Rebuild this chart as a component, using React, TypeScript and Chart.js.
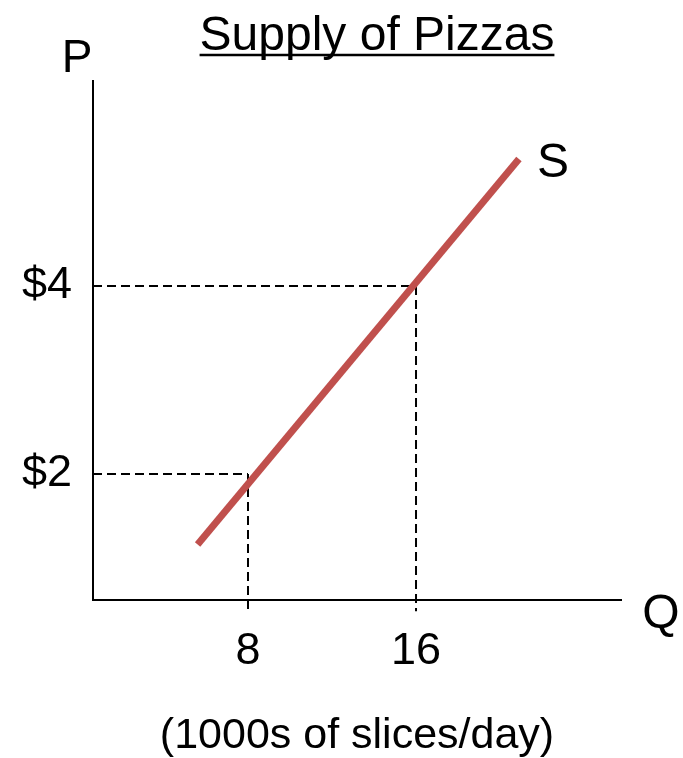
import React, { useEffect, useRef } from "react";
import { Chart, registerables } from "chart.js";

Chart.register(...registerables);

// ---- data ----
const supplyQuantity = [5.6, 20.9];
const supplyPrice = [1.25, 5.35];
const markedQuantities = [8, 16];
const markedPrices = [2, 4];
const quantityTickLabels = ["8", "16"];
const priceTickLabels = ["$2", "$4"];
const guideFloor = 0.54;

const titleText = "Supply of Pizzas";
const xAxisTitle = "(1000s of slices/day)";
const priceLabel = "P";
const quantityLabel = "Q";
const curveLabel = "S";

const X_MIN = 0.62;
const X_MAX = 25.76;
const Y_MIN = 0.66;
const Y_MAX = 6.18;

const FONT = '"Liberation Sans", Arial, sans-serif';

const textPlugin = {
  id: "econText",
  afterDraw(chart: any) {
    const { ctx, chartArea } = chart;
    const xs = chart.scales.x;
    const ys = chart.scales.y;
    ctx.save();
    ctx.fillStyle = "#000";
    ctx.strokeStyle = "#000";
    // title with underline
    ctx.font = `48px ${FONT}`;
    ctx.textAlign = "center";
    ctx.textBaseline = "alphabetic";
    const tx = 377;
    const ty = 50;
    ctx.fillText(titleText, tx, ty);
    const w = ctx.measureText(titleText).width;
    ctx.lineWidth = 2.5;
    ctx.beginPath();
    ctx.moveTo(tx - w / 2, ty + 5);
    ctx.lineTo(tx + w / 2, ty + 5);
    ctx.stroke();

    ctx.font = `46px ${FONT}`;
    // P
    ctx.fillText(priceLabel, ys.right - 16, chartArea.top - 9);
    // Q
    ctx.font = `48px ${FONT}`;
    ctx.fillText(quantityLabel, chartArea.right + 40, xs.top + 28);
    // S near end of curve
    const meta = chart.getDatasetMeta(0);
    const last = meta.data[meta.data.length - 1];
    ctx.fillText(curveLabel, last.x + 34, last.y + 18);
    ctx.restore();
  },
};

export default function App() {
  const ref = useRef<HTMLCanvasElement | null>(null);
  useEffect(() => {
    if (!ref.current) return;
    const guideSets: any[] = [];
    markedQuantities.forEach((q, i) => {
      const p = markedPrices[i];
      guideSets.push({
        data: [
          { x: X_MIN, y: p },
          { x: q, y: p },
        ],
        borderColor: "#000",
        borderWidth: 2,
        borderDash: [9, 5],
        pointRadius: 0,
        clip: false,
      });
      guideSets.push({
        data: [
          { x: q, y: p },
          { x: q, y: guideFloor },
        ],
        borderColor: "#000",
        borderWidth: 2,
        borderDash: [9, 5],
        pointRadius: 0,
        clip: false,
      });
    });
    const chart = new Chart(ref.current, {
      type: "line",
      data: {
        datasets: [
          {
            data: supplyQuantity.map((q, i) => ({ x: q, y: supplyPrice[i] })),
            borderColor: "#C0504D",
            borderWidth: 7,
            borderCapStyle: "butt",
            pointRadius: 0,
            clip: false,
          },
          ...guideSets,
        ],
      },
      options: {
        animation: false,
        responsive: false,
        events: [],
        layout: { padding: { top: 81, right: 62, left: 0, bottom: 0 } },
        plugins: {
          legend: { display: false },
          tooltip: { enabled: false },
          title: { display: false },
        },
        scales: {
          x: {
            type: "linear",
            min: X_MIN,
            max: X_MAX,
            grid: { display: false, drawTicks: false },
            border: { display: true, color: "#000", width: 2 },
            afterBuildTicks: (s: any) => {
              s.ticks = markedQuantities.map((v) => ({ value: v }));
            },
            afterFit: (s: any) => {
              s.height = 158;
            },
            ticks: {
              callback: (_v: any, i: number) => quantityTickLabels[i],
              font: { family: FONT, size: 45 },
              color: "#000",
              padding: 25,
              maxRotation: 0,
              autoSkip: false,
            },
            title: {
              display: true,
              text: xAxisTitle,
              color: "#000",
              font: { family: FONT, size: 43, lineHeight: 1 },
              padding: 0,
            },
          },
          y: {
            type: "linear",
            min: Y_MIN,
            max: Y_MAX,
            grid: { display: false, drawTicks: false },
            border: { display: true, color: "#000", width: 2 },
            afterBuildTicks: (s: any) => {
              s.ticks = markedPrices.map((v) => ({ value: v }));
            },
            afterFit: (s: any) => {
              s.width = 93;
            },
            ticks: {
              callback: (_v: any, i: number) => priceTickLabels[i],
              font: { family: FONT, size: 45 },
              color: "#000",
              padding: 21,
              autoSkip: false,
            },
          },
        },
      } as any,
      plugins: [textPlugin],
    });
    return () => chart.destroy();
  }, []);
  return (
    <div style={{ position: "absolute", left: 0, top: 0, width: 683, height: 758, background: "#fff" }}>
      <canvas ref={ref} width={683} height={758} style={{ display: "block" }} />
    </div>
  );
}
